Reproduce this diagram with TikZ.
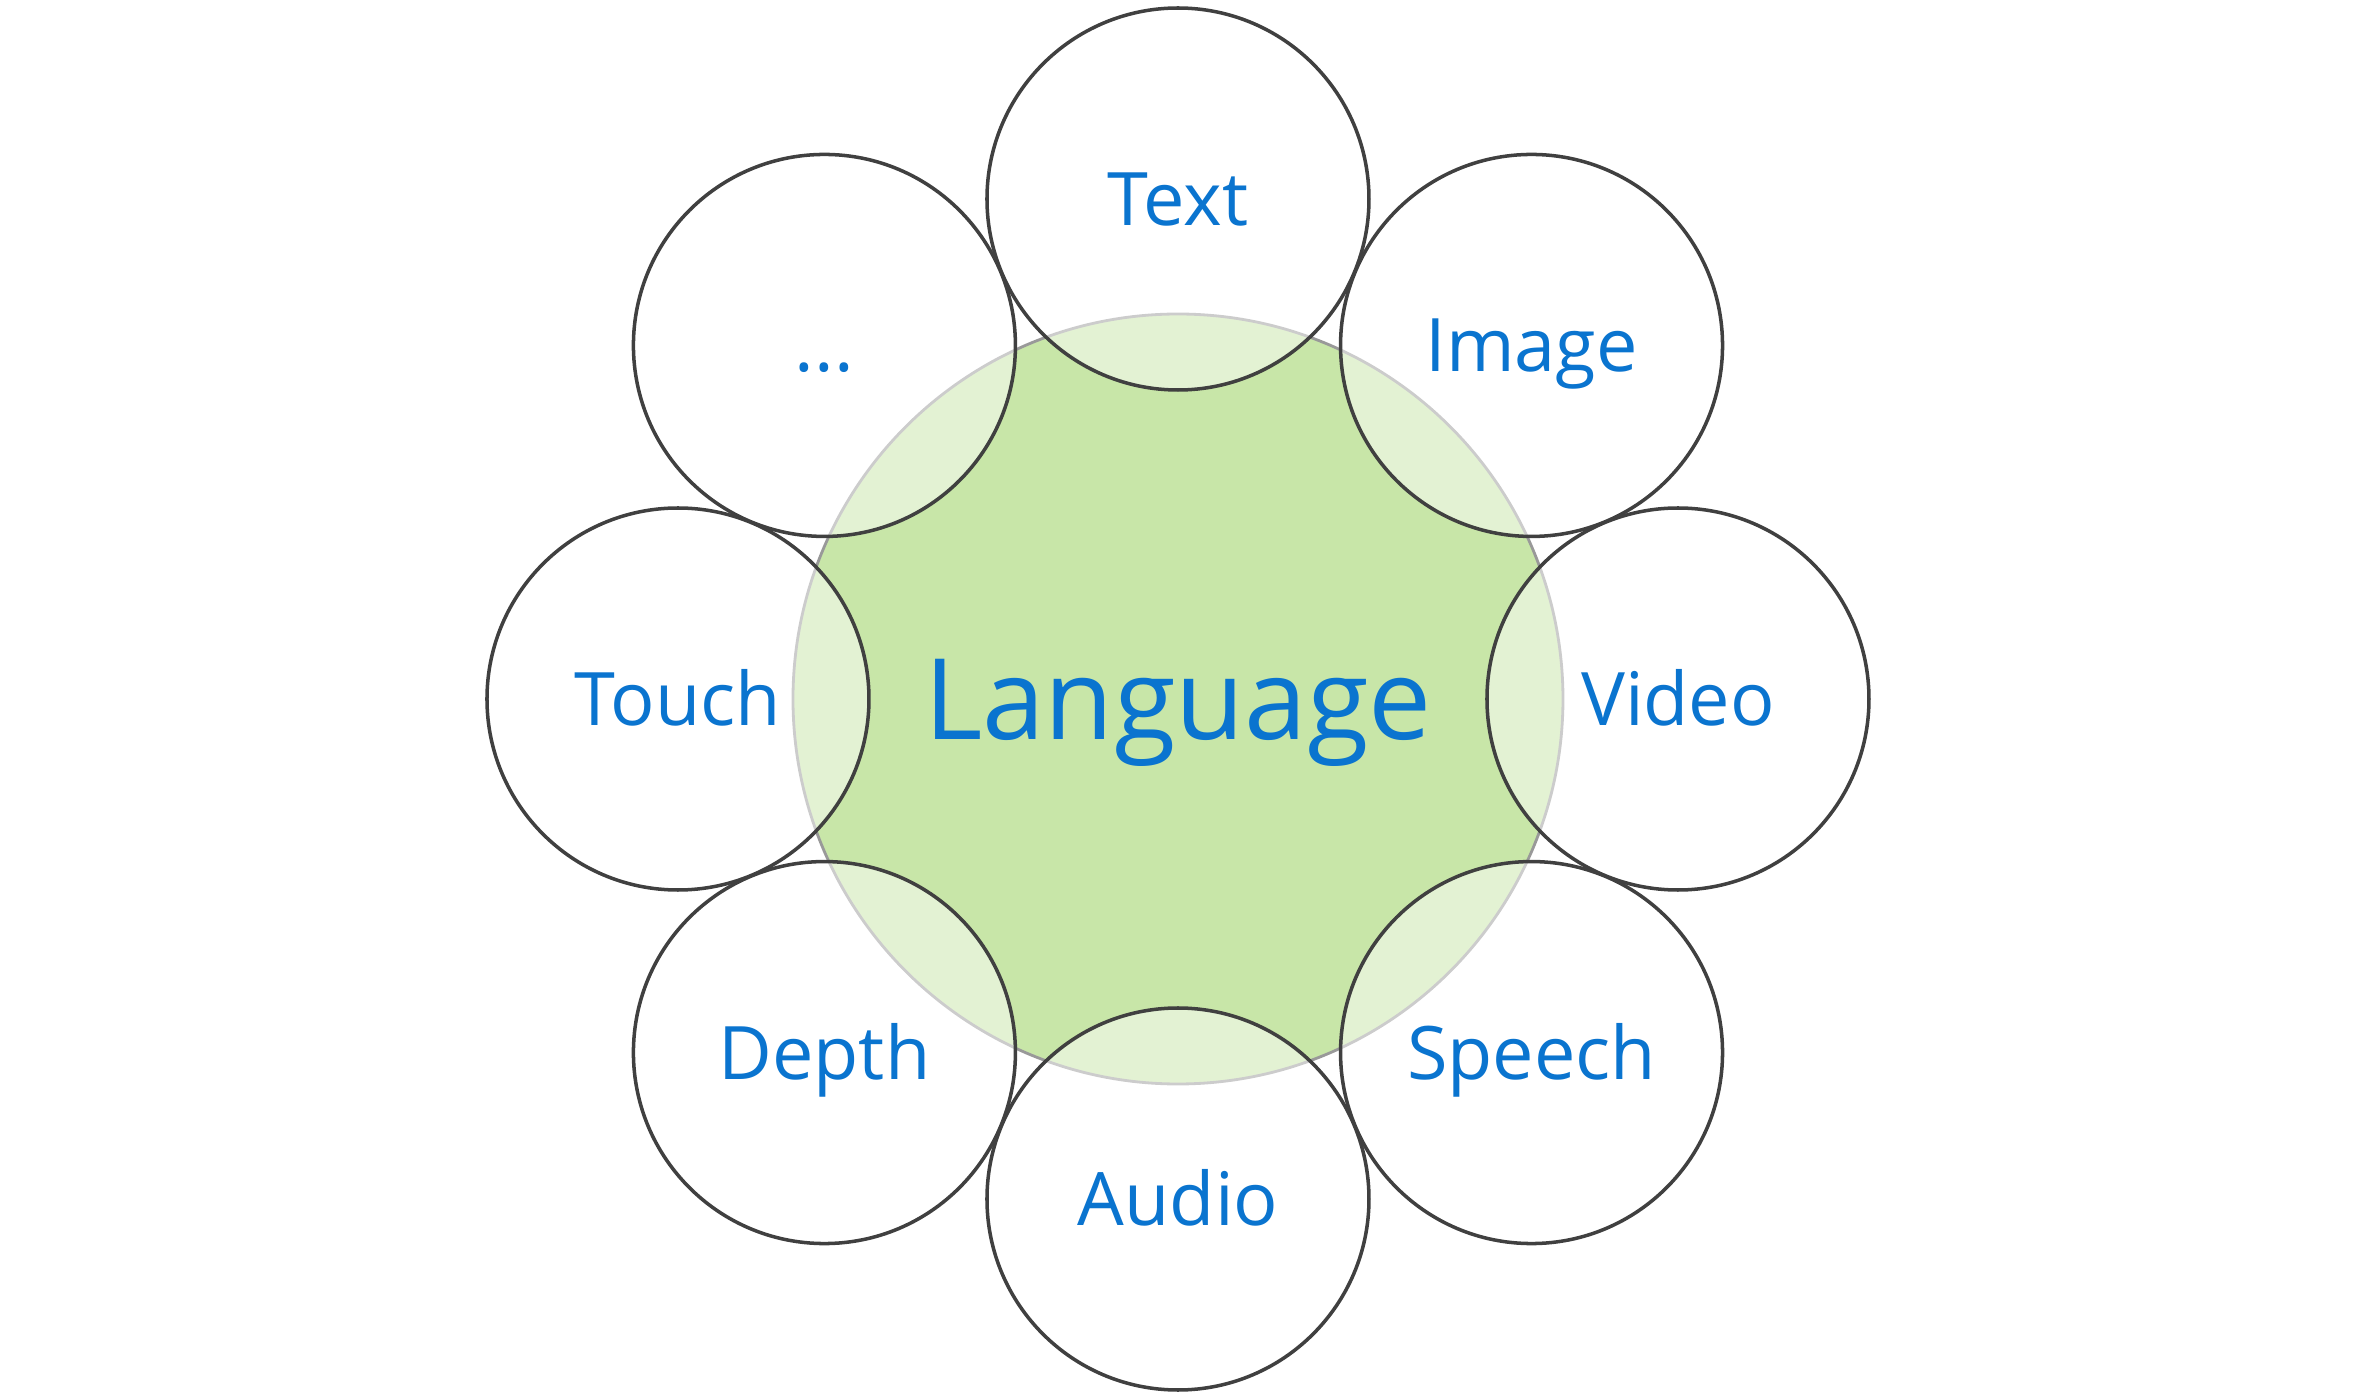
\documentclass[tikz,border=0pt]{standalone}
\usepackage{fontspec}
\setmainfont{Open Sans}
\usepackage{xcolor}
\usepackage{tikz}
\definecolor{langgreen}{HTML}{C8E6A8}
\definecolor{rimgray}{HTML}{999999}
\definecolor{ringgray}{HTML}{404040}
\definecolor{labelblue}{HTML}{0A74CF}
\tikzset{
  langcircle/.style={circle, minimum size=7.7cm, inner sep=0pt, fill=langgreen,
    draw=rimgray, line width=0.8pt, text=labelblue, font=\fontsize{32}{36}\selectfont,
    text height=0.81cm, text depth=0pt},
  modcircle/.style={circle, minimum size=3.82cm, inner sep=0pt, fill=white,
    fill opacity=0.5, text opacity=1, draw=ringgray, draw opacity=1, line width=1pt,
    text=labelblue, font=\fontsize{21}{25}\selectfont, text height=0.53cm, text depth=0pt}
}

\begin{document}
\begin{tikzpicture}
\useasboundingbox (-11.78,-6.98) rectangle (11.82,6.99);

\node[langcircle] (lang) at (0,0) {Language};

\node[modcircle] (text)   at (90:5.0)  {Text};
\node[modcircle] (image)  at (45:5.0)  {Image};
\node[modcircle] (video)  at (0:5.0)   {Video};
\node[modcircle] (speech) at (-45:5.0) {Speech};
\node[modcircle] (audio)  at (-90:5.0) {Audio};
\node[modcircle] (depth)  at (-135:5.0) {Depth};
\node[modcircle] (touch)  at (180:5.0) {Touch};
\node[modcircle] (more)   at (135:5.0) {...};

\end{tikzpicture}
\end{document}
